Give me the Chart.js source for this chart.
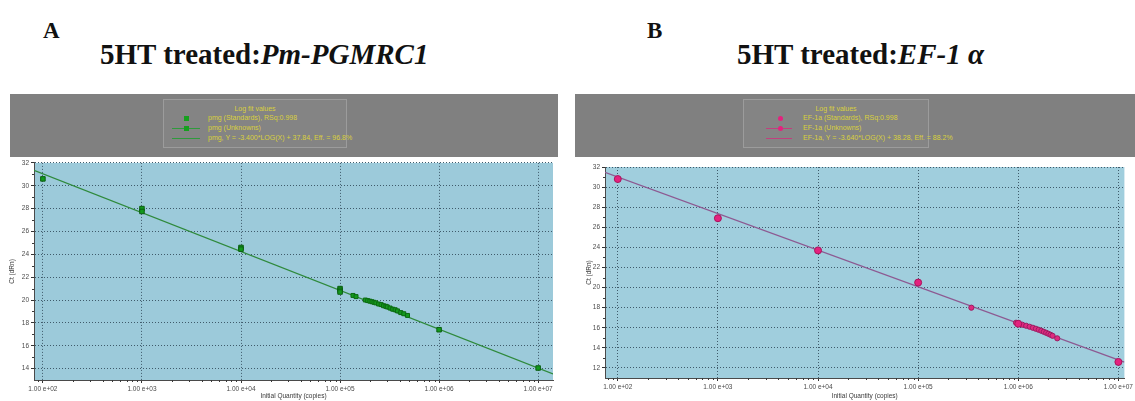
<!DOCTYPE html>
<html>
<head>
<meta charset="utf-8">
<script src="https://cdn.jsdelivr.net/npm/chart.js@4.4.1/dist/chart.umd.min.js"></script>
<style>
  html, body { margin: 0; padding: 0; background: #ffffff; }
  body { width: 1135px; height: 401px; position: relative; overflow: hidden;
         font-family: "Liberation Serif", "Times New Roman", serif; }
  .letter { position: absolute; font-weight: bold; font-size: 23px; line-height: 1; color: #111; }
  .title { position: absolute; font-weight: bold; font-size: 29px; line-height: 1; white-space: nowrap; color: #111; }
  .title i { font-style: italic; }
  .hdr { position: absolute; top: 94px; height: 63px; background: #808080; }
  .legend { position: absolute; top: 99px; height: 47px; border: 1px solid #9c9c9c; background: #848484;
            font-family: "Liberation Sans", Arial, sans-serif; font-size: 7px; color: #d9d03c; }
  .legend .lt { position: absolute; top: 5px; left: 0; right: 0; text-align: center; line-height: 8px; }
  .legend .txt { position: absolute; line-height: 8px; white-space: nowrap; }
  .legend .dot { position: absolute; width: 5px; height: 5px; }
  .legend .ln { position: absolute; height: 1px; }
  canvas { position: absolute; top: 157px; }
</style>
</head>
<body>

<div class="letter" style="left:43px; top:19px;">A</div>
<div class="title" style="left:100px; top:40px;">5HT treated:<i>Pm-PGMRC1</i></div>
<div class="letter" style="left:647px; top:19px;">B</div>
<div class="title" style="left:737px; top:40px;">5HT treated:<i>EF-1</i> <i>α</i></div>

<div class="hdr" style="left:10px; width:548px;"></div>
<div class="hdr" style="left:575px; width:560px;"></div>

<div class="legend" id="legA" style="left:163px; width:182px;"></div>
<div class="legend" id="legB" style="left:743px; width:184px;"></div>

<canvas id="chartA" width="560" height="244" style="left:0px;"></canvas>
<canvas id="chartB" width="560" height="244" style="left:575px;"></canvas>

<script>
// ---------- Panel A: Pm-PGMRC1 standard curve ----------
const xTickValuesA = [1e2, 1e3, 1e4, 1e5, 1e6, 1e7];
const xTickLabelsA = ['1.00 e+02', '1.00 e+03', '1.00 e+04', '1.00 e+05', '1.00 e+06', '1.00 e+07'];
const yTicksA = [14, 16, 18, 20, 22, 24, 26, 28, 30, 32];

const stdQtyA = [1e2, 1e3, 1e3, 1e4, 1e4, 1e5, 1e5, 1e5, 1e6, 1e7];
const stdCtA  = [30.6, 28.0, 27.75, 24.6, 24.45, 21.0, 20.85, 20.7, 17.4, 14.05];

const unkQtyA = [1.35e5, 1.45e5, 1.8e5, 1.9e5, 2.0e5, 2.1e5, 2.2e5, 2.3e5, 2.45e5, 2.6e5,
                 2.75e5, 2.9e5, 3.0e5, 3.2e5, 3.4e5, 3.6e5, 3.8e5, 4.1e5, 4.4e5, 4.8e5];
const unkCtA  = [20.4, 20.3, 20.0, 19.95, 19.9, 19.85, 19.8, 19.75, 19.65, 19.6,
                 19.5, 19.45, 19.4, 19.3, 19.2, 19.15, 19.05, 18.9, 18.8, 18.65];

const fitSlopeA = -3.400;
const fitInterceptA = 37.84;
const rsqA = '0.998';
const seriesNameA = 'pmg';

// ---------- Panel B: EF-1 alpha standard curve ----------
const xTickValuesB = [1e2, 1e3, 1e4, 1e5, 1e6, 1e7];
const xTickLabelsB = ['1.00 e+02', '1.00 e+03', '1.00 e+04', '1.00 e+05', '1.00 e+06', '1.00 e+07'];
const yTicksB = [12, 14, 16, 18, 20, 22, 24, 26, 28, 30, 32];

const stdQtyB = [1e2, 1e3, 1e4, 1e5, 1e6, 1e7];
const stdCtB  = [30.8, 26.9, 23.7, 20.5, 16.4, 12.6];

const unkQtyB = [3.4e5, 9.5e5, 1.0e6, 1.1e6, 1.2e6, 1.3e6, 1.4e6, 1.5e6, 1.6e6, 1.7e6,
                 1.8e6, 1.9e6, 2.0e6, 2.1e6, 2.2e6, 2.45e6];
const unkCtB  = [18.0, 16.5, 16.45, 16.3, 16.2, 16.1, 16.0, 15.9, 15.8, 15.7,
                 15.6, 15.5, 15.4, 15.3, 15.2, 14.95];

const fitSlopeB = -3.640;
const fitInterceptB = 38.28;
const rsqB = '0.998';
const seriesNameB = 'EF-1a';

// ---------- shared helpers ----------
const SANS = '"Liberation Sans", Arial, sans-serif';

function efficiency(slope) {
  return ((Math.pow(10, -1 / slope) - 1) * 100).toFixed(1);
}

function fitLabel(name, slope, intercept) {
  const sign = intercept >= 0 ? '+' : '-';
  return name + ', Y = ' + slope.toFixed(3) + '*LOG(X) ' + sign + ' ' + Math.abs(intercept).toFixed(2) +
         ', Eff. = ' + efficiency(slope) + '%';
}

function buildLegend(el, cfg) {
  const rows = [
    { text: cfg.name + ' (Standards), RSq:' + cfg.rsq, dot: true, line: false },
    { text: cfg.name + ' (Unknowns)', dot: true, line: true },
    { text: fitLabel(cfg.name, cfg.slope, cfg.intercept), dot: false, line: true }
  ];
  let html = '<div class="lt">Log fit values</div>';
  rows.forEach((r, i) => {
    const cy = 18 + i * 10;
    if (r.line) {
      html += '<div class="ln" style="left:' + cfg.lineL + 'px; width:' + cfg.lineW + 'px; top:' + cy +
              'px; background:' + cfg.lineColor + ';"></div>';
    }
    if (r.dot) {
      html += '<div class="dot" style="left:' + (cfg.dotX - 2) + 'px; top:' + (cy - 2) + 'px; background:' +
              cfg.dotColor + ';' + (cfg.round ? 'border-radius:50%;' : '') + '"></div>';
    }
    html += '<div class="txt" style="left:' + cfg.textX + 'px; top:' + (cy - 4) + 'px;">' + r.text + '</div>';
  });
  el.innerHTML = html;
}

// plot background, minor tick marks
const plotDeco = {
  id: 'plotDeco',
  beforeDraw(chart, args, opts) {
    const { ctx, chartArea: a } = chart;
    ctx.save();
    ctx.fillStyle = opts.bg;
    ctx.fillRect(a.left, a.top, a.right - a.left, a.bottom - a.top);
    ctx.restore();
  },
  afterDatasetsDraw(chart) {
    const { ctx, chartArea: a, scales: { x, y } } = chart;
    ctx.save();
    ctx.strokeStyle = '#3a3a3a';
    ctx.lineWidth = 1;
    ctx.beginPath();
    // log minor ticks: 2..9 within each decade
    const d0 = Math.floor(Math.log10(x.min)), d1 = Math.ceil(Math.log10(x.max));
    for (let d = d0; d <= d1; d++) {
      for (let m = 2; m <= 9; m++) {
        const v = m * Math.pow(10, d);
        if (v <= x.min || v >= x.max) continue;
        const px = Math.round(x.getPixelForValue(v)) + 0.5;
        ctx.moveTo(px, a.bottom);
        ctx.lineTo(px, a.bottom + 2);
      }
    }
    // linear minor ticks: halfway between major ticks
    const t = y.ticks.map(k => k.value);
    const mids = [];
    for (let i = 0; i < t.length - 1; i++) mids.push((t[i] + t[i + 1]) / 2);
    if (t.length > 1) {
      mids.push(t[0] - (t[1] - t[0]) / 2);
      mids.push(t[t.length - 1] + (t[1] - t[0]) / 2);
    }
    mids.forEach(v => {
      if (v <= y.min || v >= y.max) return;
      const py = Math.round(y.getPixelForValue(v)) + 0.5;
      ctx.moveTo(a.left - 2, py);
      ctx.lineTo(a.left, py);
    });
    ctx.stroke();
    ctx.restore();
  }
};

function makeChart(canvasId, p) {
  const standards = p.stdQty.map((q, i) => ({ x: q, y: p.stdCt[i] }));
  const unknowns = p.unkQty.map((q, i) => ({ x: q, y: p.unkCt[i] }));
  // regression line drawn across the axis range from the fitted equation
  const fitLine = [p.xMin, p.xMax].map(q => ({ x: q, y: p.slope * Math.log10(q) + p.intercept }));

  return new Chart(document.getElementById(canvasId), {
    type: 'scatter',
    data: {
      datasets: [
        { label: 'Standards', data: standards, order: 1,
          pointStyle: p.pointStyle, pointRadius: p.stdRadius,
          backgroundColor: p.dotColor, borderColor: p.dotBorder, borderWidth: 1 },
        { label: 'Unknowns', data: unknowns, order: 2,
          pointStyle: p.pointStyle, pointRadius: p.unkRadius,
          backgroundColor: p.unkColor, borderColor: p.unkBorder, borderWidth: 1 },
        { label: 'Fit', data: fitLine, order: 3, type: 'line', showLine: true,
          pointRadius: 0, borderColor: p.lineColor, borderWidth: 1.3, fill: false }
      ]
    },
    options: {
      responsive: false,
      animation: false,
      devicePixelRatio: 1,
      events: [],
      layout: { padding: p.padding },
      plugins: {
        legend: { display: false },
        tooltip: { enabled: false },
        plotDeco: { bg: p.bg }
      },
      scales: {
        x: {
          type: 'logarithmic',
          min: p.xMin, max: p.xMax,
          afterBuildTicks: s => { s.ticks = p.xTicks.map(v => ({ value: v })); },
          afterFit: s => { s.height = p.xAxisH; },
          ticks: { callback: (v, i) => p.xLabels[i], font: { family: SANS, size: 6.5 },
                   color: '#4a4a4a', padding: 2, maxRotation: 0, autoSkip: false },
          grid: { color: '#3f5b6b', lineWidth: 1, drawTicks: true, tickLength: 3, tickColor: '#333' },
          border: { display: true, color: '#4a4a4a', width: 1, dash: [1, 2] },
          title: { display: true, text: 'Initial Quantity (copies)', color: '#3a3a3a',
                   font: { family: SANS, size: 6.5 }, padding: { top: 0, bottom: 1 } }
        },
        y: {
          type: 'linear',
          min: p.yMin, max: p.yMax,
          afterBuildTicks: s => { s.ticks = p.yTicks.map(v => ({ value: v })); },
          afterFit: s => { s.width = p.yAxisW; },
          ticks: { font: { family: SANS, size: 6.5 }, color: '#4a4a4a', padding: 2 },
          grid: { color: '#3f5b6b', lineWidth: 1, drawTicks: true, tickLength: 3, tickColor: '#333' },
          border: { display: true, color: '#4a4a4a', width: 1, dash: [1, 2] },
          title: { display: true, text: 'Ct (dRn)', color: '#3a3a3a',
                   font: { family: SANS, size: 6.5 }, padding: { top: 0, bottom: 0 } }
        }
      }
    },
    plugins: [plotDeco]
  });
}

makeChart('chartA', {
  stdQty: stdQtyA, stdCt: stdCtA, unkQty: unkQtyA, unkCt: unkCtA,
  slope: fitSlopeA, intercept: fitInterceptA,
  xMin: Math.pow(10, 1.91), xMax: Math.pow(10, 7.15),
  yMin: 13, yMax: 32,
  xTicks: xTickValuesA, xLabels: xTickLabelsA, yTicks: yTicksA,
  padding: { left: 8, top: 5, right: 7, bottom: 0 },
  yAxisW: 26, xAxisH: 21,
  bg: '#9ccada',
  pointStyle: 'rect', stdRadius: 3.2, unkRadius: 2.8,
  dotColor: '#129a1c', dotBorder: '#0b5e12', unkColor: '#139a1d', unkBorder: '#0b6a12',
  lineColor: '#2f8a3c'
});

makeChart('chartB', {
  stdQty: stdQtyB, stdCt: stdCtB, unkQty: unkQtyB, unkCt: unkCtB,
  slope: fitSlopeB, intercept: fitInterceptB,
  xMin: Math.pow(10, 1.8725), xMax: Math.pow(10, 7.06),
  yMin: 11, yMax: 32,
  xTicks: xTickValuesB, xLabels: xTickLabelsB, yTicks: yTicksB,
  padding: { left: 10, top: 10, right: 2, bottom: 0 },
  yAxisW: 20, xAxisH: 23,
  bg: '#a0cedd',
  pointStyle: 'circle', stdRadius: 3.5, unkRadius: 2.6,
  dotColor: '#e4217e', dotBorder: '#a8145c', unkColor: '#e02a80', unkBorder: '#9a1e62',
  lineColor: '#8d5a92'
});

buildLegend(document.getElementById('legA'), {
  name: seriesNameA, rsq: rsqA, slope: fitSlopeA, intercept: fitInterceptA,
  dotX: 22, textX: 44, lineL: 8, lineW: 28, dotColor: '#16a01e', lineColor: '#2f9a3c', round: false
});
buildLegend(document.getElementById('legB'), {
  name: seriesNameB, rsq: rsqB, slope: fitSlopeB, intercept: fitInterceptB,
  dotX: 36, textX: 59, lineL: 22, lineW: 26, dotColor: '#e4217e', lineColor: '#c0407e', round: true
});
</script>
</body>
</html>
